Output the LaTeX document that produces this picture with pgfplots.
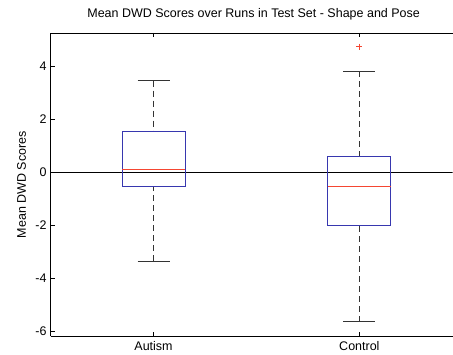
\documentclass[border=0pt]{standalone}
\usepackage{pgfplots}
\pgfplotsset{compat=1.18}
\usepgfplotslibrary{statistics}
\usepackage{fontspec}
\setmainfont{Liberation Sans}
\definecolor{boxblue}{RGB}{55,55,175}
\definecolor{medred}{RGB}{245,70,50}
\tikzset{whiskdash/.style={draw=black!80, line width=0.8pt, dash pattern=on 6pt off 4pt},
         capstyle/.style={draw=black!80, line width=0.8pt, solid}}
\pgfplotsset{
  /pgfplots/boxplot/draw/lower whisker/.code={%
    \draw[whiskdash] (boxplot box cs:\pgfplotsboxplotvalue{lower whisker},0.5) -- (boxplot box cs:\pgfplotsboxplotvalue{lower quartile},0.5);
    \draw[capstyle] (boxplot whisker cs:\pgfplotsboxplotvalue{lower whisker},0) -- (boxplot whisker cs:\pgfplotsboxplotvalue{lower whisker},1);
  },
  /pgfplots/boxplot/draw/upper whisker/.code={%
    \draw[whiskdash] (boxplot box cs:\pgfplotsboxplotvalue{upper whisker},0.5) -- (boxplot box cs:\pgfplotsboxplotvalue{upper quartile},0.5);
    \draw[capstyle] (boxplot whisker cs:\pgfplotsboxplotvalue{upper whisker},0) -- (boxplot whisker cs:\pgfplotsboxplotvalue{upper whisker},1);
  },
}
\begin{document}
\begin{tikzpicture}
\begin{axis}[
  scale only axis, width=402.3pt, height=303.7pt,
  xmin=0.5, xmax=2.453, ymin=-6.2, ymax=5.26,
  axis x line*=box, axis y line*=left,
  xtick={1,2}, xticklabels={Autism,Control},
  ytick={-6,-4,-2,0,2,4}, yticklabels={-6,-4,-2,0,2,4},
  tick align=inside, major tick length=4pt,
  every tick/.style={black, line width=0.7pt},
  axis line style={black, line width=0.8pt, -},
  tick label style={font=\fontsize{12.5}{14}\selectfont},
  yticklabel style={inner sep=0pt, xshift=-4pt},
  xticklabel style={anchor=base, yshift=-14.5pt},
  title={Mean DWD Scores over Runs in Test Set - Shape and Pose},
  title style={font=\fontsize{12.5}{14}\selectfont, at={(axis description cs:0.505,1)}, anchor=base, yshift=9.7pt},
  ylabel={Mean DWD Scores},
  ylabel style={font=\fontsize{12.5}{14}\selectfont, at={(axis description cs:-0.0721,0.5)}, anchor=center},
  boxplot/draw direction=y,
  boxplot/box extend=0.306,
  boxplot/whisker extend=0.155,
  boxplot/every median/.style={draw=medred, line width=1pt},
]
\addplot[black, line width=0.5pt] coordinates {(0.5,0) (2.453,0)};
\addplot[draw=boxblue, line width=0.8pt, mark=+, mark size=3pt, mark options={medred, solid},
  boxplot prepared={draw position=1, lower whisker=-3.35, lower quartile=-0.54,
    median=0.12, upper quartile=1.56, upper whisker=3.46}]
  coordinates {};
\addplot[draw=boxblue, line width=0.8pt, mark=+, mark size=3pt, mark options={medred, solid},
  boxplot prepared={draw position=2, lower whisker=-5.65, lower quartile=-2.0,
    median=-0.54, upper quartile=0.58, upper whisker=3.81}]
  table[row sep=\\, y index=0] {4.74\\};
\end{axis}
\path (current axis.south west) ++(-50.7pt,-15.3pt) coordinate (bbA);
\path (current axis.north east) ++(0pt,33pt) coordinate (bbB);
\end{tikzpicture}
\end{document}
